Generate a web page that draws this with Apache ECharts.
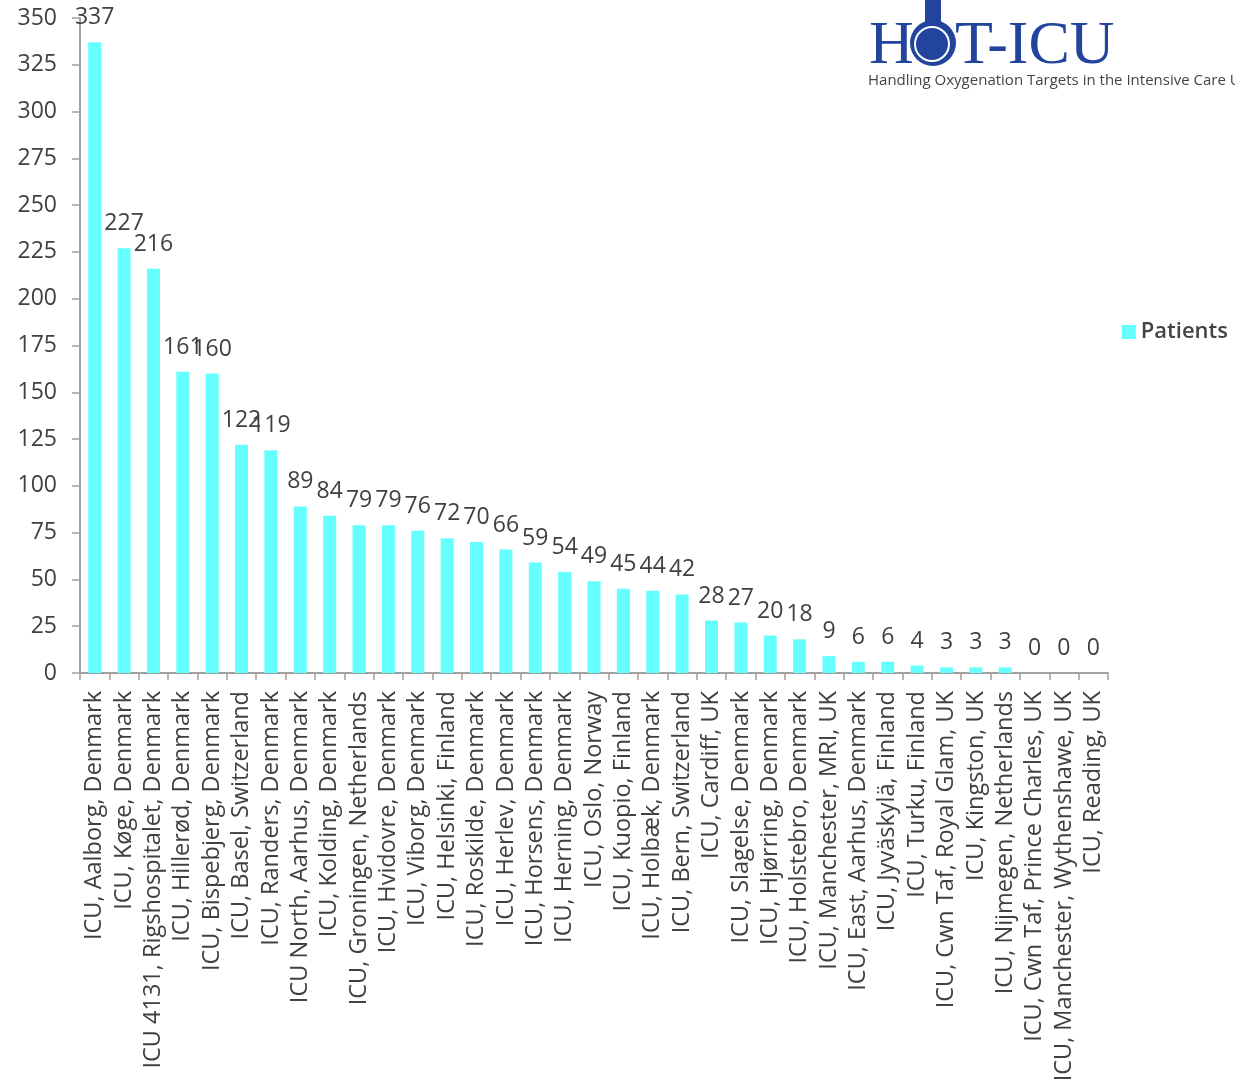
<!DOCTYPE html>
<html>
<head>
<meta charset="utf-8">
<script src="https://cdn.jsdelivr.net/npm/echarts@6/dist/echarts.min.js"></script>
<style>html,body{margin:0;padding:0;background:#fff}#c{width:1235px;height:1089px}</style>
</head>
<body>
<div id="c"></div>
<script>
const categories = [
  "ICU, Aalborg, Denmark","ICU, Køge, Denmark","ICU 4131, Rigshospitalet, Denmark","ICU, Hillerød, Denmark",
  "ICU, Bispebjerg, Denmark","ICU, Basel, Switzerland","ICU, Randers, Denmark","ICU North, Aarhus, Denmark",
  "ICU, Kolding, Denmark","ICU, Groningen, Netherlands","ICU, Hvidovre, Denmark","ICU, Viborg, Denmark",
  "ICU, Helsinki, Finland","ICU, Roskilde, Denmark","ICU, Herlev, Denmark","ICU, Horsens, Denmark",
  "ICU, Herning, Denmark","ICU, Oslo, Norway","ICU, Kuopio, Finland","ICU, Holbæk, Denmark",
  "ICU, Bern, Switzerland","ICU, Cardiff, UK","ICU, Slagelse, Denmark","ICU, Hjørring, Denmark",
  "ICU, Holstebro, Denmark","ICU, Manchester, MRI, UK","ICU, East, Aarhus, Denmark","ICU, Jyväskylä, Finland",
  "ICU, Turku, Finland","ICU, Cwn Taf, Royal Glam, UK","ICU, Kingston, UK","ICU, Nijmegen, Netherlands",
  "ICU, Cwn Taf, Prince Charles, UK","ICU, Manchester, Wythenshawe, UK","ICU, Reading, UK"
];
const patients = [337,227,216,161,160,122,119,89,84,79,79,76,72,70,66,59,54,49,45,44,42,28,27,20,18,9,6,6,4,3,3,3,0,0,0];
const seriesName = "Patients";
const logoTitleLeft = "H";
const logoTitleRight = "T-ICU";
const logoSubtitle = "Handling Oxygenation Targets in the Intensive Care Unit";

const chart = echarts.init(document.getElementById('c'), null, {renderer:'canvas'});
const font = "'Open Sans', 'Noto Sans', sans-serif";
const blue = '#22449c';
chart.setOption({
  animation: false,
  backgroundColor: '#fff',
  grid: {left: 80, right: 127, top: 18, bottom: 416, containLabel: false},
  legend: {
    orient: 'vertical', right: 2, top: 316, itemWidth: 14, itemHeight: 14, itemGap: 6,
    icon: 'rect',
    textStyle: {fontFamily: font, fontSize: 22, color: '#444', fontWeight: 600},
    data: [seriesName]
  },
  xAxis: {
    type: 'category', data: categories,
    axisLine: {lineStyle: {color: '#a0a0a0', width: 2}},
    axisTick: {show: true, inside: false, length: 7, alignWithLabel: false, lineStyle: {color: '#a0a0a0', width: 1.5}},
    axisLabel: {rotate: 90, interval: 0, margin: 18, fontFamily: font, fontSize: 23.5, color: '#404040'}
  },
  yAxis: {
    type: 'value', min: 0, max: 350, interval: 25,
    axisLine: {show: true, lineStyle: {color: '#a0a0a0', width: 2}},
    axisTick: {show: true, length: 8, lineStyle: {color: '#a0a0a0', width: 1.5}},
    splitLine: {show: false},
    axisLabel: {margin: 23, fontFamily: font, fontSize: 23, color: '#404040'}
  },
  series: [{
    name: seriesName, type: 'bar', data: patients, barWidth: 13,
    itemStyle: {color: '#66ffff'},
    label: {show: true, position: 'top', distance: 13, fontFamily: font, fontSize: 23, color: '#404040'}
  }],
  graphic: [
    {type: 'rect', shape: {x: 925, y: 0, width: 16, height: 28}, style: {fill: blue}},
    {type: 'circle', shape: {cx: 933, cy: 43, r: 23}, style: {fill: blue}},
    {type: 'circle', shape: {cx: 932, cy: 44, r: 17}, style: {fill: 'none', stroke: '#fff', lineWidth: 2}},
    {type: 'text', left: 869, top: 16, style: {text: logoTitleLeft, font: "62px 'Liberation Serif', serif", fill: blue}},
    {type: 'text', left: 955, top: 16, style: {text: logoTitleRight, font: "62px 'Liberation Serif', serif", fill: blue}},
    {type: 'text', left: 868, top: 73, style: {text: logoSubtitle, font: "15px 'Open Sans', sans-serif", fill: '#444'}}
  ]
});
</script>
</body>
</html>
